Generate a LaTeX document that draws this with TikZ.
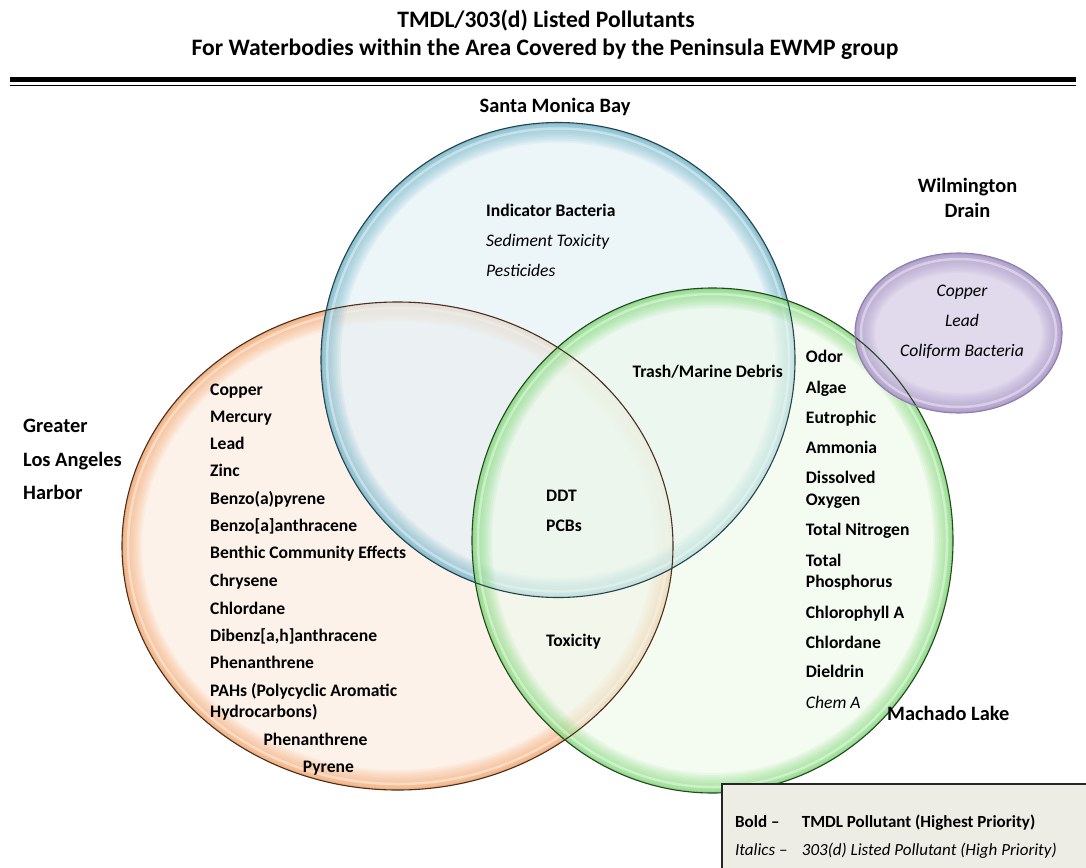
\documentclass[tikz,border=0pt]{standalone}
\usepackage{fontspec}
\setmainfont{Carlito}
\definecolor{orIn}{HTML}{FDF0E7}
\definecolor{orEdge}{HTML}{F29A58}
\definecolor{orLine}{HTML}{4A3020}
\definecolor{blIn}{HTML}{E4F1F6}
\definecolor{blEdge}{HTML}{5FAAC2}
\definecolor{blLine}{HTML}{28434D}
\definecolor{grIn}{HTML}{EDFAEA}
\definecolor{grEdge}{HTML}{6CD462}
\definecolor{grLine}{HTML}{2A4526}
\definecolor{puIn}{HTML}{E0D9EB}
\definecolor{puEdge}{HTML}{9F8BC2}
\definecolor{puLine}{HTML}{8F7FAA}
\definecolor{legbg}{HTML}{EEEDE5}
\newcommand{\vennblob}[6]{%
  \pgfmathsetmacro\vbxi{#2-6}\pgfmathsetmacro\vbyi{#3-6}%
  \begin{scope}
    \clip #1 ellipse [x radius=#2pt, y radius=#3pt];
    \fill[#4, fill opacity=#6] #1 ellipse [x radius=#2pt, y radius=#3pt];
    \foreach \w in {40,36,32,28,24,20,16,12,8,5}{
      \draw[#5, line width=\w pt, draw opacity=0.085] #1 ellipse [x radius=#2pt, y radius=#3pt];}
    \draw[#5, line width=3pt, draw opacity=0.4] #1 ellipse [x radius=#2pt, y radius=#3pt];
    \draw[white, line width=2.5pt, draw opacity=0.4] #1 ellipse [x radius=\vbxi pt, y radius=\vbyi pt];
  \end{scope}}
\begin{document}
\begin{tikzpicture}[x=1pt,y=-1pt,
  ttl/.style={font=\bfseries\fontsize{23.6}{28}\selectfont, anchor=base, inner sep=0pt},
  reg/.style={font=\bfseries\fontsize{20.4}{24}\selectfont, anchor=base west, inner sep=0pt},
  regc/.style={font=\bfseries\fontsize{20.4}{24}\selectfont, anchor=base, inner sep=0pt},
  itm/.style={font=\bfseries\fontsize{17.6}{21}\selectfont, anchor=base west, inner sep=0pt},
  itl/.style={font=\itshape\fontsize{17.6}{21}\selectfont, anchor=base west, inner sep=0pt},
  itlc/.style={font=\itshape\fontsize{17.6}{21}\selectfont, anchor=base, inner sep=0pt},
  lgb/.style={font=\bfseries\fontsize{17}{20}\selectfont, anchor=base west, inner sep=0pt},
  lgi/.style={font=\itshape\fontsize{17}{20}\selectfont, anchor=base west, inner sep=0pt},
  rim/.style={line width=1.1pt}
]
\useasboundingbox (0,0) rectangle (1086,867);
\fill[white] (0,0) rectangle (1086,867);

% title
\node[ttl] (t1) at (546,27.5) {TMDL/303(d) Listed Pollutants};
\node[ttl] (t2) at (545,55.5) {For Waterbodies within the Area Covered by the Peninsula EWMP group};
\draw[line width=4.5pt] (10,79.5) -- (1076,79.5);
\draw[line width=1.2pt] (10,85.5) -- (1076,85.5);

% circles
\vennblob{(397.5,546)}{275.5}{244}{orIn}{orEdge}{0.85}
\vennblob{(558,360)}{237}{237.5}{blIn}{blEdge}{0.7}
\vennblob{(712.5,540.5)}{240.5}{252.5}{grIn}{grEdge}{0.6}
\vennblob{(958.5,333)}{103.5}{80}{puIn}{puEdge}{0.95}
\draw[rim, orLine] (397.5,546) ellipse [x radius=275.5pt, y radius=244pt];
\draw[rim, blLine] (558,360) ellipse [x radius=237pt, y radius=237.5pt];
\draw[rim, grLine] (712.5,540.5) ellipse [x radius=240.5pt, y radius=252.5pt];
\draw[rim, puLine] (958.5,333) ellipse [x radius=103.5pt, y radius=80pt];

% region labels
\node[regc] (smb) at (555,112.5) {Santa Monica Bay};
\node[regc] (wil1) at (967.5,192.5) {Wilmington};
\node[regc] (wil2) at (967.5,217.5) {Drain};
\node[reg] (gla1) at (23,432) {Greater};
\node[reg] (gla2) at (23,466) {Los Angeles};
\node[reg] (gla3) at (23,499.5) {Harbor};
\node[reg] (mach) at (887,720) {Machado Lake};

% Santa Monica Bay only
\node[itm] (sm1) at (486,216) {Indicator Bacteria};
\node[itl] (sm2) at (486,246.5) {Sediment Toxicity};
\node[itl] (sm3) at (486,276) {Pesticides};

% Wilmington Drain
\node[itlc] (wd1) at (962,296.7) {Copper};
\node[itlc] (wd2) at (962,326.7) {Lead};
\node[itlc] (wd3) at (962,356.7) {Coliform Bacteria};

% overlaps
\node[itm] (tr) at (632.3,377.3) {Trash/Marine Debris};
\node[itm] (ddt) at (546,501.7) {DDT};
\node[itm] (pcb) at (546,531.7) {PCBs};
\node[itm] (tox) at (546,646.7) {Toxicity};

% Greater LA Harbor list
\node[itm] (h1) at (210,395) {Copper};
\node[itm] (h2) at (210,422.3) {Mercury};
\node[itm] (h3) at (210,449.5) {Lead};
\node[itm] (h4) at (210,476.7) {Zinc};
\node[itm] (h5) at (210,504) {Benzo(a)pyrene};
\node[itm] (h6) at (210,531.3) {Benzo[a]anthracene};
\node[itm] (h7) at (210,558.7) {Benthic Community Effects};
\node[itm] (h8) at (210,586) {Chrysene};
\node[itm] (h9) at (210,614) {Chlordane};
\node[itm] (h10) at (210,641.5) {Dibenz[a,h]anthracene};
\node[itm] (h11) at (210,668.5) {Phenanthrene};
\node[itm] (h12a) at (210,696) {PAHs (Polycyclic Aromatic};
\node[itm] (h12b) at (210,717.3) {Hydrocarbons)};
\node[itm] (h13) at (263.3,745) {Phenanthrene};
\node[itm] (h14) at (302.7,772.3) {Pyrene};

% Machado Lake list
\node[itm] (m1) at (805.7,362.7) {Odor};
\node[itm] (m2) at (805.7,393.3) {Algae};
\node[itm] (m3) at (805.7,423.3) {Eutrophic};
\node[itm] (m4) at (805.7,453.3) {Ammonia};
\node[itm] (m5a) at (805.7,483.3) {Dissolved};
\node[itm] (m5b) at (805.7,505) {Oxygen};
\node[itm] (m6) at (805.7,535) {Total Nitrogen};
\node[itm] (m7a) at (805.7,566) {Total};
\node[itm] (m7b) at (805.7,587.3) {Phosphorus};
\node[itm] (m8) at (805.7,618.3) {Chlorophyll A};
\node[itm] (m9) at (805.7,648.3) {Chlordane};
\node[itm] (m10) at (805.7,677.7) {Dieldrin};
\node[itl] (m11) at (805.7,708.3) {Chem A};

% legend
\fill[legbg] (722,784) rectangle (1090,870);
\draw[line width=2.2pt, black!85] (722,870) -- (722,784) -- (1090,784);
\node[lgb] (lg1) at (735,827) {Bold --};
\node[lgb] (lg2) at (801.7,827) {TMDL Pollutant (Highest Priority)};
\node[lgi] (lg3) at (735,855) {Italics --};
\node[lgi] (lg4) at (801.7,855) {303(d) Listed Pollutant (High Priority)};
\end{tikzpicture}
\end{document}
